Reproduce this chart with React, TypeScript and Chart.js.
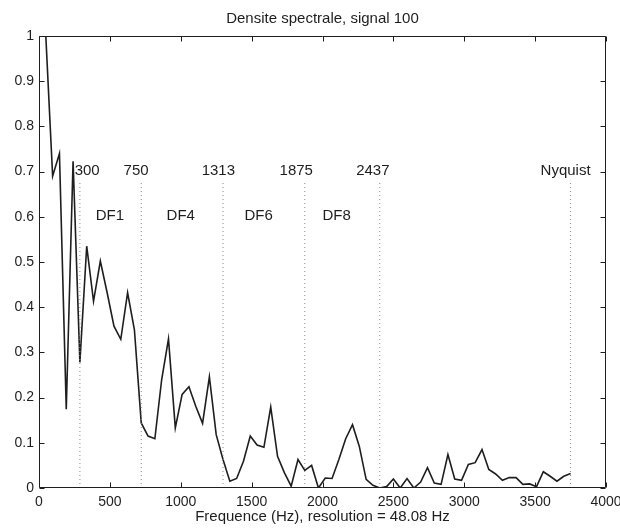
import React, { useEffect, useRef } from "react";
import { Chart, registerables } from "chart.js";

Chart.register(...registerables);

const FONT = "'Liberation Sans', Arial, Helvetica, sans-serif";
const INK = "#1e1e1e";

const TITLE = "Densite spectrale, signal 100";
const X_LABEL = "Frequence (Hz), resolution = 48.08 Hz";
const RESOLUTION = 48.08;

// Normalised spectral density, one value per frequency bin (bin 1 .. 78)
const spectrum = [
  1.0, 0.69, 0.74, 0.174, 0.723, 0.278, 0.535, 0.413, 0.502, 0.432,
  0.358, 0.329, 0.432, 0.35, 0.144, 0.115, 0.109, 0.24, 0.33, 0.133,
  0.207, 0.224, 0.181, 0.143, 0.246, 0.118, 0.063, 0.015, 0.021, 0.059,
  0.115, 0.095, 0.09, 0.179, 0.07, 0.034, 0.004, 0.063, 0.039, 0.05,
  0.0, 0.022, 0.021, 0.063, 0.109, 0.14, 0.092, 0.019, 0.006, 0.0,
  0.003, 0.02, 0.0, 0.021, 0.0, 0.013, 0.045, 0.011, 0.008, 0.074,
  0.02, 0.017, 0.052, 0.056, 0.085, 0.041, 0.031, 0.017, 0.023, 0.023,
  0.008, 0.009, 0.003, 0.036, 0.026, 0.015, 0.026, 0.032,
];

// Band limits (dotted verticals) and their labels
const cutoffFreqs = [288.5, 721.2, 1298.2, 1875.1, 2404.0, 3750.2];
const cutoffTop = 0.675;
const cutoffLabels = ["300", "750", "1313", "1875", "2437", "Nyquist"];
const cutoffLabelX = [340, 685, 1265, 1815, 2355, 3715];
const cutoffLabelY = 0.702;

const bandLabels = ["DF1", "DF4", "DF6", "DF8"];
const bandLabelX = [400, 900, 1450, 2000];
const bandLabelY = 0.603;

const X_MIN = 0;
const X_MAX = 4000;
const X_STEP = 500;
const Y_MIN = 0;
const Y_MAX = 1;
const Y_STEP = 0.1;

const matlabBox = {
  id: "matlabBox",
  afterDatasetsDraw(chart: any) {
    const { ctx, chartArea, scales } = chart;
    const { left, right, top, bottom } = chartArea;
    const x = scales.x;
    const y = scales.y;
    ctx.save();
    ctx.strokeStyle = INK;
    ctx.lineWidth = 1;
    ctx.beginPath();
    const L = Math.round(left) + 0.5;
    const R = Math.round(right) - 0.5;
    const T = Math.round(top) + 0.5;
    const B = Math.round(bottom) - 0.5;
    ctx.rect(L, T, R - L, B - T);
    const tl = 5;
    x.ticks.forEach((t: any) => {
      const px = Math.round(x.getPixelForValue(t.value)) + 0.5;
      ctx.moveTo(px, B);
      ctx.lineTo(px, B - tl);
      ctx.moveTo(px, T);
      ctx.lineTo(px, T + tl);
    });
    y.ticks.forEach((t: any) => {
      const py = Math.round(y.getPixelForValue(t.value)) + 0.5;
      ctx.moveTo(L, py);
      ctx.lineTo(L + tl, py);
      ctx.moveTo(R, py);
      ctx.lineTo(R - tl, py);
    });
    ctx.stroke();

    ctx.fillStyle = INK;
    ctx.font = `15px ${FONT}`;
    ctx.textBaseline = "middle";
    ctx.textAlign = "center";
    ctx.fillText(TITLE, (left + right) / 2, top - 17);
    cutoffLabels.forEach((txt, i) => {
      ctx.fillText(txt, x.getPixelForValue(cutoffLabelX[i]), y.getPixelForValue(cutoffLabelY));
    });
    ctx.textAlign = "left";
    bandLabels.forEach((txt, i) => {
      ctx.fillText(txt, x.getPixelForValue(bandLabelX[i]), y.getPixelForValue(bandLabelY));
    });
    ctx.restore();
  },
};

export default function App() {
  const ref = useRef<HTMLCanvasElement | null>(null);

  useEffect(() => {
    if (!ref.current) return;
    const datasets: any[] = [];
    cutoffFreqs.forEach((f) => {
      datasets.push({
        data: [
          { x: f, y: 0 },
          { x: f, y: cutoffTop },
        ],
        borderColor: "#8a8a8a",
        borderWidth: 1,
        borderDash: [1, 3],
        pointRadius: 0,
        fill: false,
      });
    });
    datasets.push({
      data: spectrum.map((v, i) => ({ x: (i + 1) * RESOLUTION, y: v })),
      borderColor: INK,
      borderWidth: 1.6,
      pointRadius: 0,
      fill: false,
      tension: 0,
    });

    const chart = new Chart(ref.current, {
      type: "line",
      data: { datasets },
      plugins: [matlabBox],
      options: {
        animation: false,
        responsive: false,
        devicePixelRatio: 1,
        layout: { padding: { left: 0, right: 14, top: 36, bottom: 0 } },
        plugins: {
          legend: { display: false },
          tooltip: { enabled: false },
          title: { display: false },
        },
        scales: {
          x: {
            type: "linear",
            min: X_MIN,
            max: X_MAX,
            afterFit: (s: any) => {
              s.height = 40;
              s.paddingLeft = 0;
              s.paddingRight = 0;
            },
            grid: { display: false, drawTicks: false },
            border: { display: false },
            ticks: {
              stepSize: X_STEP,
              autoSkip: false,
              maxRotation: 0,
              padding: 6,
              color: INK,
              font: { size: 14, family: FONT },
              callback: (v: any) => String(v),
            },
            title: {
              display: true,
              text: X_LABEL,
              color: INK,
              font: { size: 15, family: FONT },
              padding: { top: 0, bottom: 2 },
            },
          },
          y: {
            type: "linear",
            min: Y_MIN,
            max: Y_MAX,
            afterFit: (s: any) => {
              s.width = 39;
              s.paddingTop = 0;
              s.paddingBottom = 0;
            },
            grid: { display: false, drawTicks: false },
            border: { display: false },
            ticks: {
              stepSize: Y_STEP,
              padding: 5,
              color: INK,
              font: { size: 14, family: FONT },
              callback: (v: any) => String(Math.round(v * 10) / 10),
            },
          },
        },
      } as any,
    });
    return () => chart.destroy();
  }, []);

  return (
    <div style={{ position: "absolute", left: 0, top: 0, width: 620, height: 528, background: "#fff" }}>
      <canvas ref={ref} width={620} height={528} />
    </div>
  );
}
